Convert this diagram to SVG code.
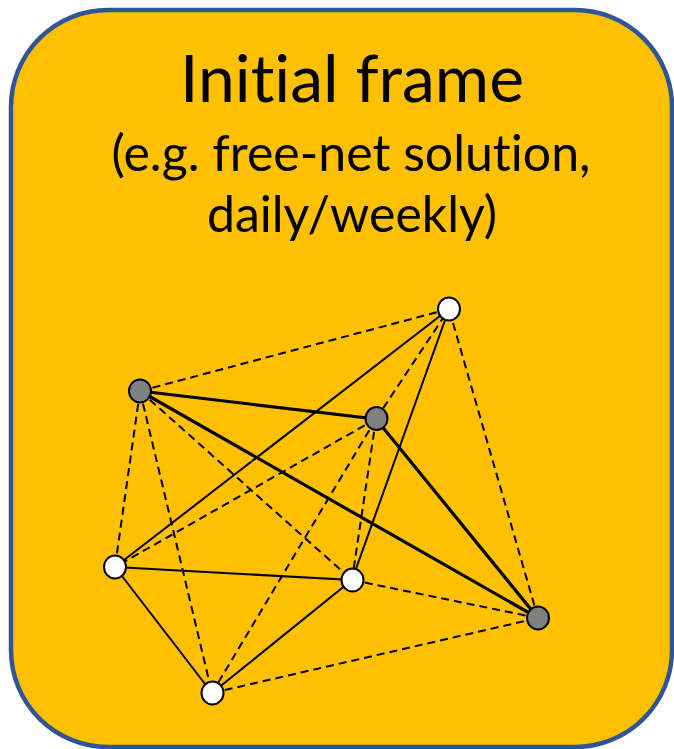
<svg xmlns="http://www.w3.org/2000/svg" width="674" height="749" viewBox="0 0 674 749">
  <style>
    .frame { fill: #FFC000; stroke: #2F5597; stroke-width: 4.5; }
    .title { font-family: Lato, "Liberation Sans", sans-serif; fill: #000; text-anchor: middle; font-variant-ligatures: none; }
    .edge { stroke: #000; fill: none; stroke-linecap: butt; }
    .thick { stroke-width: 3.2; }
    .thin { stroke-width: 2; }
    .dash { stroke-width: 2; stroke-dasharray: 8 5; }
    .node { stroke: #000; stroke-width: 2; }
    .open { fill: #FFFFFF; }
    .ref { fill: #808080; }
  </style>

  <g id="frame">
    <rect class="frame" x="11" y="10" width="661" height="737" rx="97" ry="97"/>
    <text class="title" x="352" y="102" font-size="66">Initial frame</text>
    <text class="title" x="351" y="171" font-size="50">(e.g. free-net solution,</text>
    <text class="title" x="352" y="232" font-size="50">daily/weekly)</text>
  </g>

  <g id="connectors">
    <!-- dashed links -->
    <line class="edge dash" x1="140" y1="391" x2="449" y2="309"/>
    <line class="edge dash" x1="376" y1="419" x2="449" y2="309"/>
    <line class="edge dash" x1="538" y1="618" x2="449" y2="309"/>
    <line class="edge dash" x1="140" y1="391" x2="115" y2="567"/>
    <line class="edge dash" x1="140" y1="391" x2="212" y2="693"/>
    <line class="edge dash" x1="140" y1="391" x2="352" y2="580"/>
    <line class="edge dash" x1="376" y1="419" x2="115" y2="567"/>
    <line class="edge dash" x1="376" y1="419" x2="212" y2="693"/>
    <line class="edge dash" x1="376" y1="419" x2="352" y2="580"/>
    <line class="edge dash" x1="352" y1="580" x2="538" y2="618"/>
    <line class="edge dash" x1="212" y1="693" x2="538" y2="618"/>
    <!-- thin solid links -->
    <line class="edge thin" x1="449" y1="309" x2="115" y2="567"/>
    <line class="edge thin" x1="449" y1="309" x2="352" y2="580"/>
    <line class="edge thin" x1="115" y1="567" x2="352" y2="580"/>
    <line class="edge thin" x1="115" y1="567" x2="212" y2="693"/>
    <line class="edge thin" x1="212" y1="693" x2="352" y2="580"/>
    <!-- thick solid links -->
    <line class="edge thick" x1="140" y1="391" x2="376" y2="419"/>
    <line class="edge thick" x1="140" y1="391" x2="538" y2="618"/>
    <line class="edge thick" x1="376" y1="419" x2="538" y2="618"/>
  </g>

  <g id="node-a"><ellipse class="node ref" cx="140" cy="391" rx="11" ry="11.5"/></g>
  <g id="node-b"><ellipse class="node ref" cx="376.5" cy="418.5" rx="11" ry="11.5"/></g>
  <g id="node-c"><ellipse class="node open" cx="449" cy="309" rx="11" ry="11.5"/></g>
  <g id="node-d"><ellipse class="node open" cx="115" cy="567" rx="11" ry="11.5"/></g>
  <g id="node-e"><ellipse class="node open" cx="352.5" cy="580" rx="11" ry="11.5"/></g>
  <g id="node-f"><ellipse class="node ref" cx="538" cy="618" rx="11" ry="11.5"/></g>
  <g id="node-g"><ellipse class="node open" cx="212.5" cy="693" rx="11" ry="11.5"/></g>
</svg>
